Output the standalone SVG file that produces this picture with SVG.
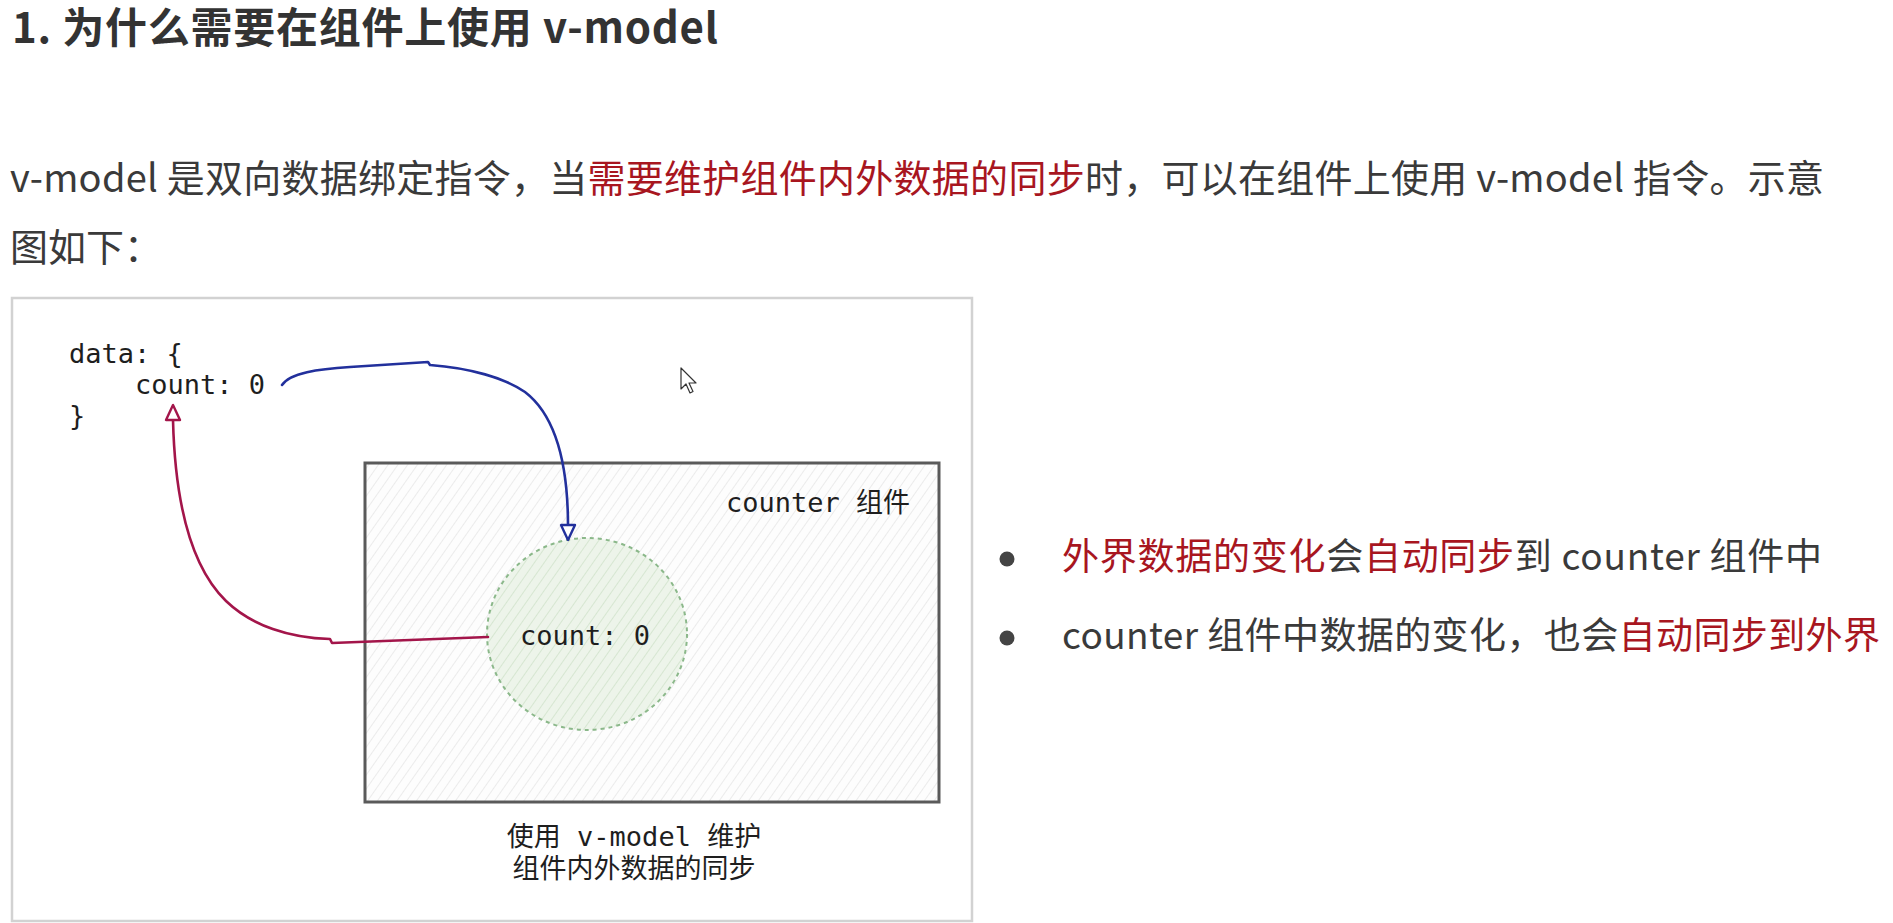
<svg xmlns="http://www.w3.org/2000/svg" width="1893" height="923" viewBox="0 0 1893 923">
<defs>
<style>
.title{font-family:"Noto Sans CJK SC","Noto Sans",sans-serif;font-weight:700;font-size:42px;fill:#333}
.para{font-family:"Noto Sans CJK SC","Noto Sans",sans-serif;font-size:38px;fill:#3a3a3a}
.bul{font-family:"Noto Sans CJK SC","Noto Sans",sans-serif;font-size:37px;fill:#3a3a3a}
.red{fill:#a8161f}
.code{font-family:"DejaVu Sans Mono","Liberation Mono","Noto Sans CJK SC",monospace;font-size:27px;fill:#1e1e1e}
.cap{font-family:"DejaVu Sans Mono","Noto Sans CJK SC",monospace;font-size:27px;fill:#1e1e1e}
.blue{fill:none;stroke:#22309c;stroke-width:2.6;stroke-linecap:round;stroke-linejoin:round}
.crim{fill:none;stroke:#a3154a;stroke-width:2.6;stroke-linecap:round;stroke-linejoin:round}
</style>
<pattern id="hatch" patternUnits="userSpaceOnUse" width="8" height="8" patternTransform="rotate(35)">
<rect width="8" height="8" fill="#fdfdfd"/>
<line x1="0" y1="0" x2="0" y2="8" stroke="#e0e0e0" stroke-width="1.2"/>
</pattern>
<pattern id="hatchG" patternUnits="userSpaceOnUse" width="8" height="8" patternTransform="rotate(35)">
<rect width="8" height="8" fill="#edf4ea"/>
<line x1="0" y1="0" x2="0" y2="8" stroke="#cde1c7" stroke-width="1.4"/>
</pattern>
</defs>
<rect width="1893" height="923" fill="#ffffff"/>

<g id="heading">
<text class="title" x="12" y="43" textLength="706">1. 为什么需要在组件上使用 v-model</text>
</g>

<g id="paragraph">
<text class="para" x="10" y="192" textLength="1814">v-model 是双向数据绑定指令，当<tspan class="red">需要维护组件内外数据的同步</tspan>时，可以在组件上使用 v-model 指令。示意</text>
<text class="para" x="10" y="261">图如下：</text>
</g>

<g id="frame">
<rect x="12" y="298" width="960" height="623" fill="#ffffff" stroke="#d2d2d2" stroke-width="2.5"/>
</g>

<g id="data-node">
<text class="code" x="69" y="363">data: {</text>
<text class="code" x="135" y="394">count: 0</text>
<text class="code" x="69" y="425">}</text>
</g>

<g id="counter-component">
<rect x="365" y="463" width="574" height="339" fill="url(#hatch)" stroke="#5a5a5a" stroke-width="3"/>
<text class="code" x="726" y="512">counter 组件</text>
</g>

<g id="inner-count">
<ellipse cx="587" cy="634" rx="100" ry="96" fill="url(#hatchG)" stroke="#8bb88a" stroke-width="2" stroke-dasharray="4 4"/>
<text class="code" x="520" y="645">count: 0</text>
</g>

<g id="connectors">
<path class="blue" d="M282,385 C290,373 318,369 350,367 L428,362 L430,365 C470,368 505,378 525,392 C555,415 568,460 568,526"/>
<polygon points="568,540 561,525 575,525" fill="#ffffff" stroke="#22309c" stroke-width="2.4" stroke-linejoin="round"/>
<path class="crim" d="M488,637 L332,643 L330,639 C290,638 252,626 226,601 C190,566 175,500 173,420"/>
<polygon points="173,405 166,420 180,420" fill="#ffffff" stroke="#a3154a" stroke-width="2.4" stroke-linejoin="round"/>
</g>

<g id="caption">
<text class="cap" x="634" y="846" text-anchor="middle">使用 v-model 维护</text>
<text class="cap" x="634" y="878" text-anchor="middle">组件内外数据的同步</text>
</g>

<g id="cursor">
<path d="M681,368 L681,389 L686,384 L690,393 L693,391.5 L689,383 L696,383 Z" fill="#ffffff" stroke="#333" stroke-width="1.2" stroke-linejoin="round"/>
</g>

<g id="bullets">
<circle cx="1007" cy="559" r="7.5" fill="#444"/>
<text class="bul" x="1062" y="570" textLength="760"><tspan class="red">外界数据的变化</tspan>会<tspan class="red">自动同步</tspan>到 counter 组件中</text>
<circle cx="1007" cy="638" r="7.5" fill="#444"/>
<text class="bul" x="1062" y="649" textLength="818">counter 组件中数据的变化，也会<tspan class="red">自动同步到外界</tspan></text>
</g>
</svg>
